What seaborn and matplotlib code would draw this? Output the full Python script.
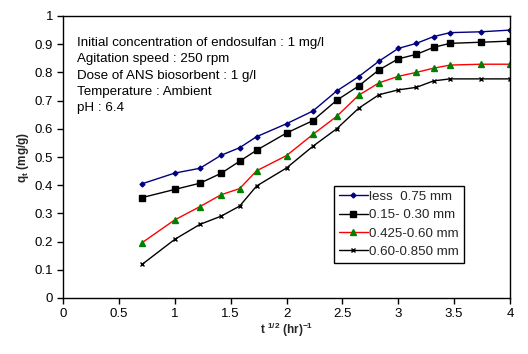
import numpy as np
import pandas as pd
import seaborn as sns
import matplotlib.pyplot as plt

# sqrt of contact time (hr^0.5)
t_half = [0.707, 1.0, 1.225, 1.414, 1.581, 1.732, 2.0, 2.236, 2.449, 2.646,
          2.828, 3.0, 3.162, 3.317, 3.464, 3.742, 4.0]

q_less075 = [0.405, 0.443, 0.460, 0.506, 0.533, 0.572, 0.618, 0.663, 0.734, 0.785,
             0.840, 0.885, 0.903, 0.927, 0.941, 0.944, 0.950]
q_015_030 = [0.356, 0.385, 0.407, 0.442, 0.485, 0.524, 0.585, 0.629, 0.701, 0.752,
             0.809, 0.848, 0.864, 0.889, 0.903, 0.907, 0.911]
q_0425_060 = [0.196, 0.277, 0.324, 0.366, 0.388, 0.451, 0.505, 0.580, 0.644, 0.719,
              0.763, 0.786, 0.800, 0.815, 0.826, 0.829, 0.829]
q_060_085 = [0.119, 0.208, 0.261, 0.290, 0.326, 0.397, 0.461, 0.538, 0.600, 0.673,
             0.721, 0.738, 0.747, 0.770, 0.777, 0.777, 0.777]

labels = ["less  0.75 mm", "0.15- 0.30 mm", "0.425-0.60 mm", "0.60-0.850 mm"]

notes = ["Initial concentration of endosulfan : 1 mg/l",
         "Agitation speed : 250 rpm",
         "Dose of ANS biosorbent : 1 g/l",
         "Temperature : Ambient",
         "pH : 6.4"]

sns.set_theme(style="ticks")
plt.rcParams['font.family'] = ['Liberation Sans', 'DejaVu Sans']
plt.rcParams['mathtext.default'] = 'regular'

fig = plt.figure(figsize=(5.28, 3.54), dpi=100)
ax = fig.add_axes([63 / 528, 1 - 298 / 354, 447 / 528, 282 / 354])

# line colour, marker, marker colour, marker size
styles = [
    ("#000080", "D", "#000080", 2.5),
    ("black", "s", "black", 4.5),
    ("red", "^", "#008000", 4.5),
    ("black", "x", "black", 3.5),
]
series = [q_less075, q_015_030, q_0425_060, q_060_085]

for y, lab, (lc, mk, mc, ms) in zip(series, labels, styles):
    sns.lineplot(x=t_half, y=y, ax=ax, color=lc, linewidth=1, marker=mk,
                 markersize=ms, markerfacecolor=mc, markeredgecolor=mc,
                 markeredgewidth=1, label=lab)

ax.set_xlim(0, 4)
ax.set_ylim(0, 1)
ax.set_xticks(np.arange(0, 4.01, 0.5))
ax.set_xticklabels(["0", "0.5", "1", "1.5", "2", "2.5", "3", "3.5", "4"])
ax.set_yticks(np.arange(0, 1.01, 0.1))
ax.set_yticklabels(["0", "0.1", "0.2", "0.3", "0.4", "0.5", "0.6", "0.7", "0.8", "0.9", "1"])
ax.tick_params(direction="out", length=4, width=1, color="black",
               labelsize=9.5, labelcolor="black", pad=3)
for sp in ax.spines.values():
    sp.set_color("black")
    sp.set_linewidth(1)

ax.set_xlabel(r"t $^{1/2}$ (hr)$^{-1}$", fontsize=8.5, fontweight="bold", labelpad=1)
ax.set_ylabel(r"q$_t$ (mg/g)", fontsize=8.5, fontweight="bold", labelpad=3)

for i, line in enumerate(notes):
    ax.text(0.032, 0.905 - i * 0.058, line, transform=ax.transAxes,
            fontsize=9.6, va="center", ha="left", color="black")

leg = ax.legend(loc="upper left", bbox_to_anchor=(0.606, 0.397), frameon=True,
                fancybox=False, framealpha=1, edgecolor="black", fontsize=9.6,
                handlelength=2.2, handletextpad=0.1, labelspacing=0.45,
                borderpad=0.35, borderaxespad=0)
leg.get_frame().set_linewidth(1)

fig.savefig("out.png", dpi=100)
